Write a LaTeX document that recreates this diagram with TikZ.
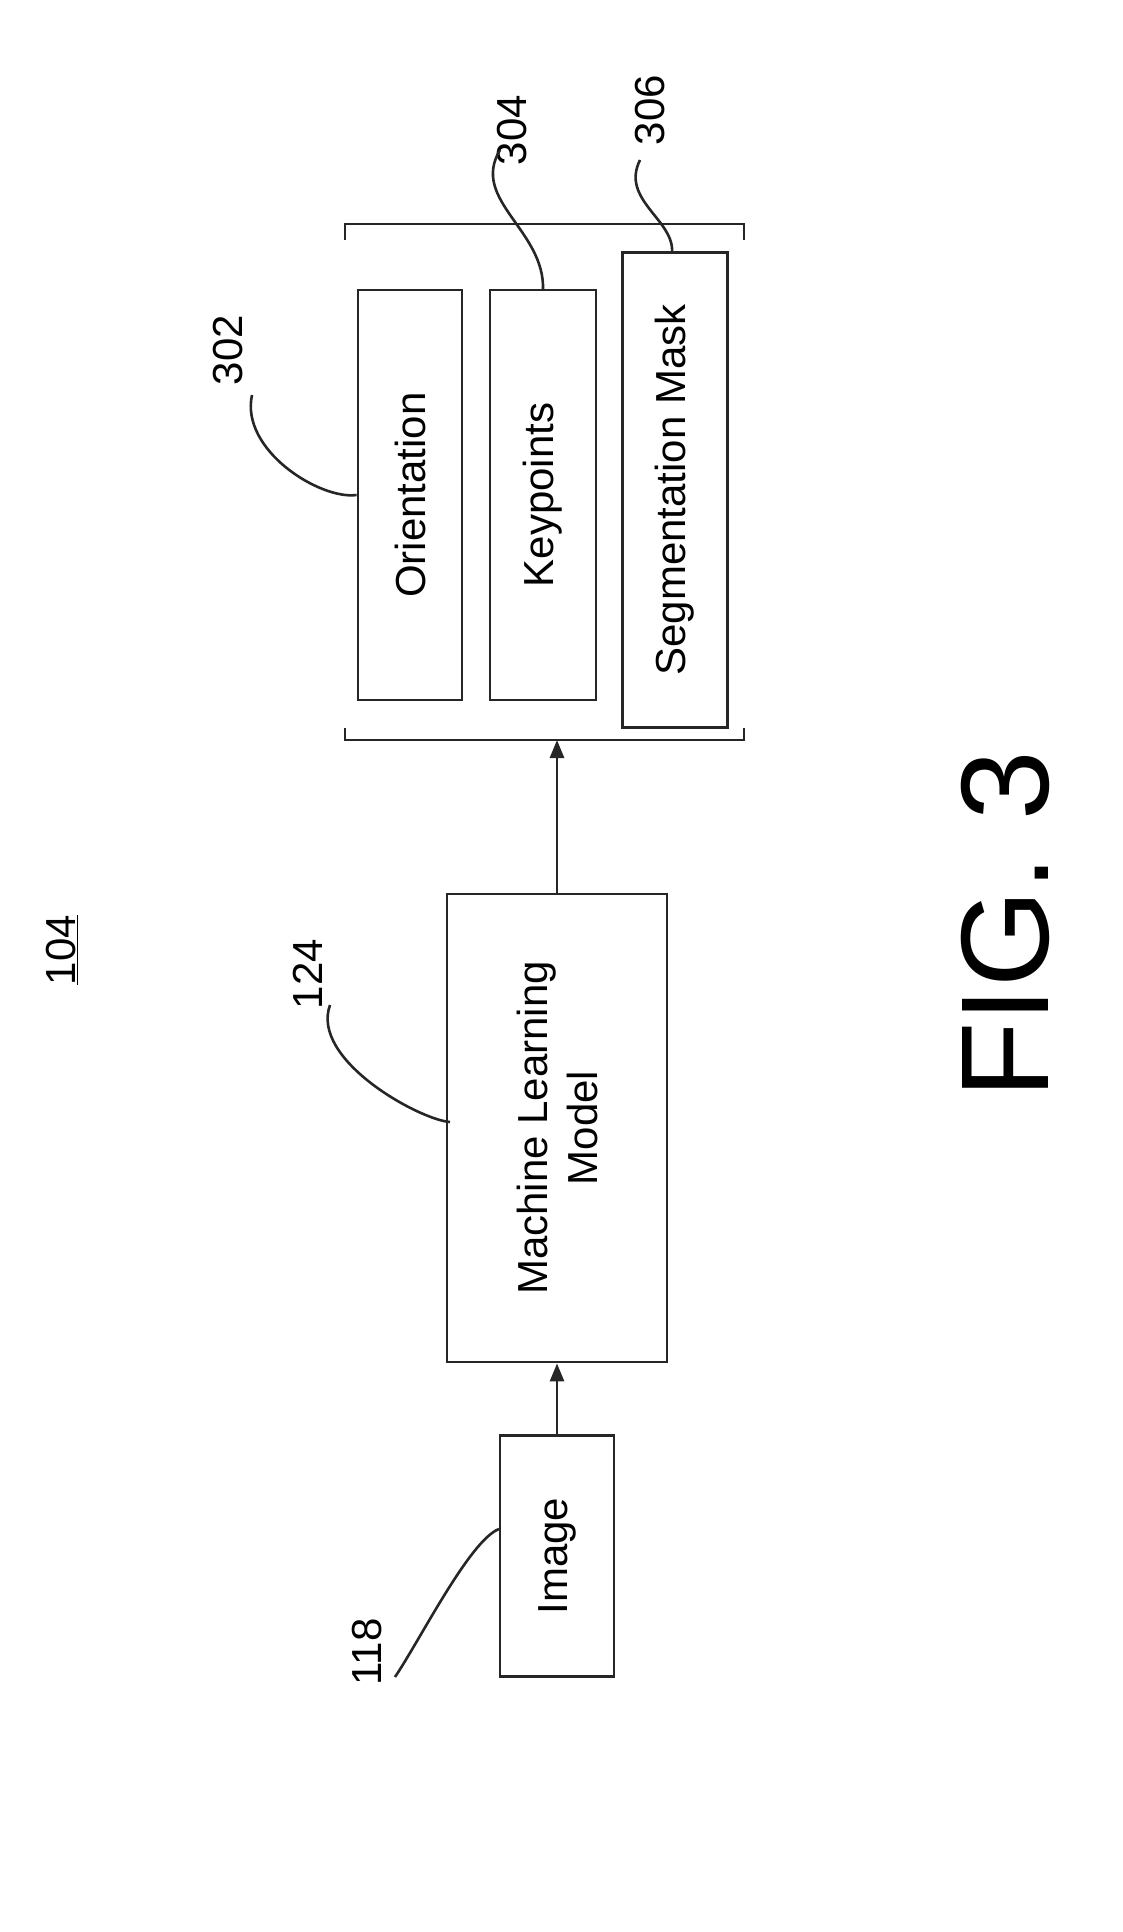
\documentclass[tikz,border=0pt]{standalone}
\usepackage{fontspec}
\setmainfont{Liberation Sans}
\usetikzlibrary{arrows.meta}
\begin{document}
\begin{tikzpicture}[x=1pt,y=-1pt,line width=2.8pt,draw=black!85,
  box/.style={draw=black!85,line width=2.8pt,rotate=90,inner sep=0pt,font=\fontsize{42}{50}\selectfont},
  lbl/.style={rotate=90,font=\fontsize{42}{48}\selectfont},
  lead/.style={line width=2.6pt},
  arr/.style={-{Triangle[length=18pt,width=14pt]},line width=2.8pt}]
\useasboundingbox (0,0) rectangle (1122,1932);
\node[box,minimum width=241pt,minimum height=114pt] (img) at (557,1556) {Image};
\node[box,minimum width=468pt,minimum height=220pt,align=center] (ml) at (557,1128) {Machine Learning\\Model};
\node[box,minimum width=410pt,minimum height=104pt] (ori) at (410,495) {Orientation};
\node[box,minimum width=410pt,minimum height=106pt] (kp) at (543,495) {Keypoints};
\node[box,minimum width=475pt,minimum height=105pt] (seg) at (675,490) {Segmentation Mask};
\coordinate (bt) at (557,740);
\draw (345,240) -- (345,224) -- (744,224) -- (744,240);
\draw (345,728) -- (345,740) -- (744,740) -- (744,728);
\draw[arr] (img.east) -- (ml.west);
\draw[arr] (ml.east) -- (bt);
\node[lbl] (n104) at (62,950) {\underline{104}};
\node[rotate=90,font=\fontsize{125}{130}\selectfont] (fig) at (1005,925) {FIG. 3};
\node[lbl] (n302) at (228,350) {302};
\node[lbl] (n304) at (512,130) {304};
\node[lbl] (n306) at (650,110) {306};
\node[lbl] (n124) at (308,974) {124};
\node[lbl] (n118) at (367,1652) {118};
\draw[lead] (252,395) .. controls (240,450) and (320,500) .. (ori.north);
\draw[lead] (500,150) .. controls (470,200) and (545,230) .. (543,290);
\draw[lead] (640,160) .. controls (620,200) and (675,220) .. (672,253);
\draw[lead] (330,1005) .. controls (310,1060) and (420,1120) .. (450,1122);
\draw[lead] (395,1677) .. controls (420,1640) and (470,1540) .. (499,1529);
\end{tikzpicture}
\end{document}
